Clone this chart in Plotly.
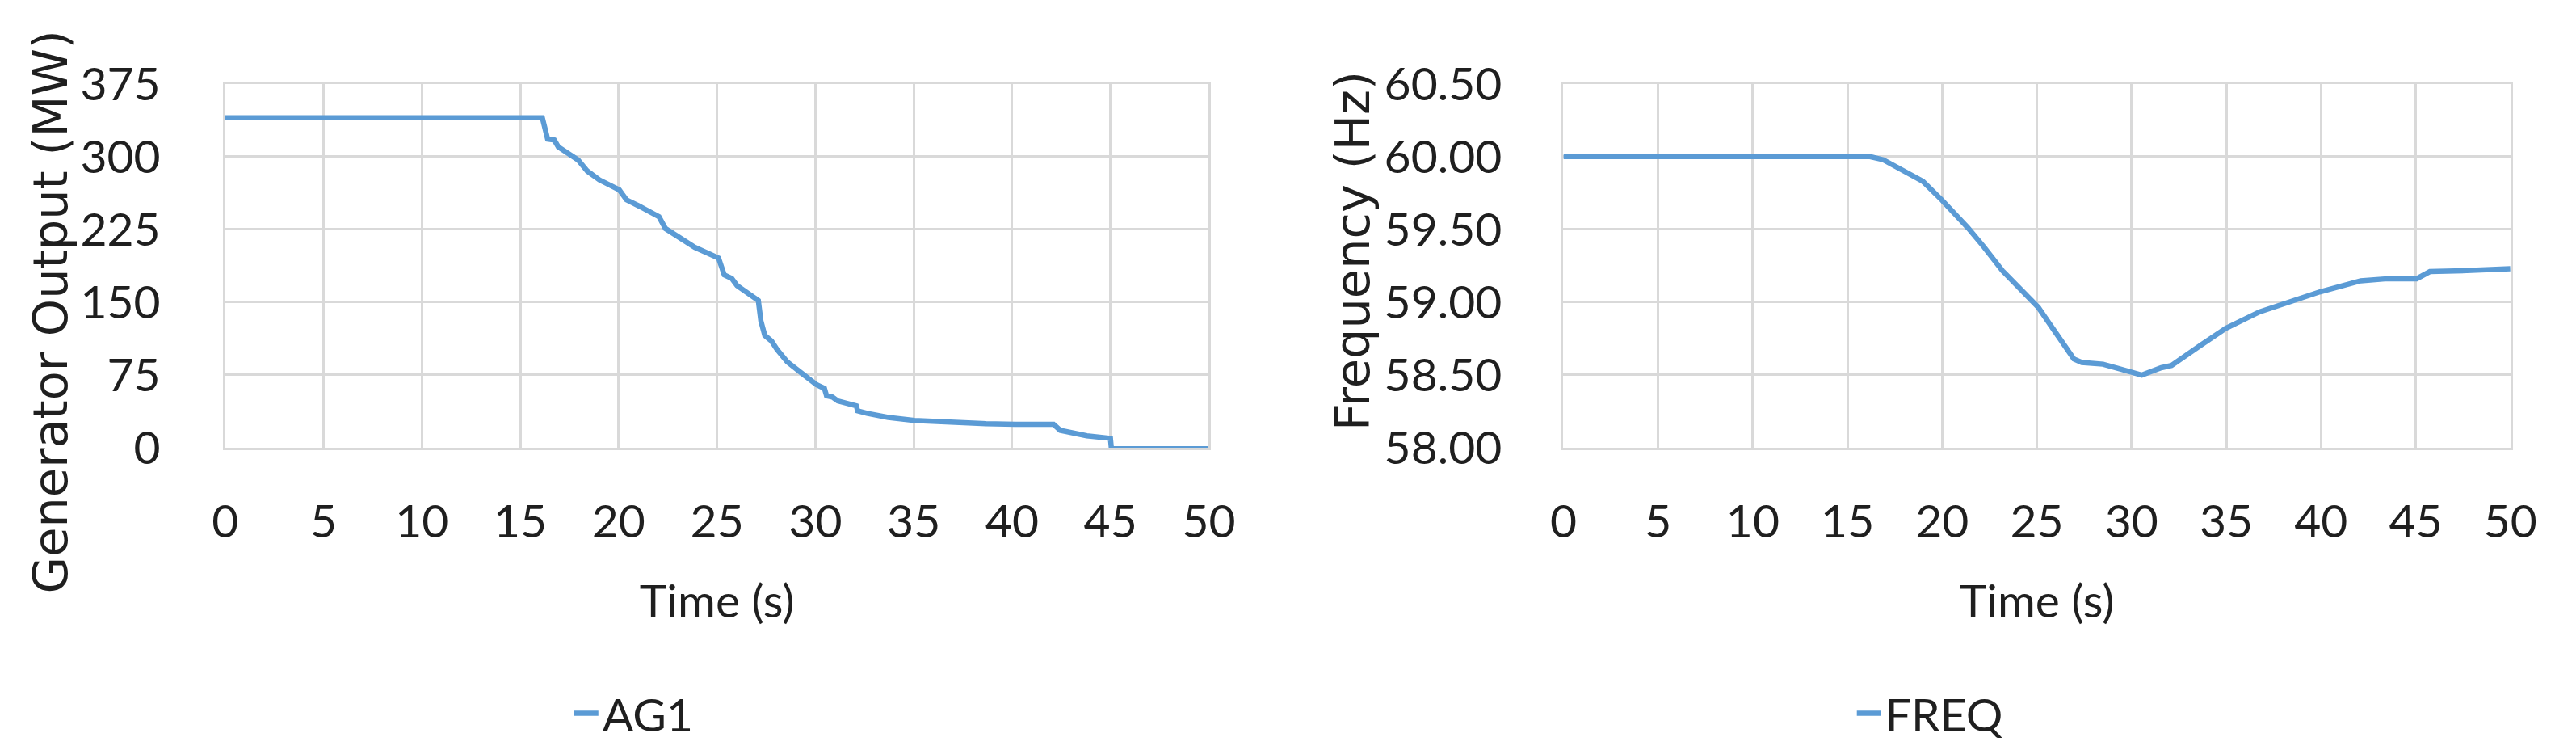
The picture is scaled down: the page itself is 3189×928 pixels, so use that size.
import plotly.graph_objects as go

# Generator output (AG1)
ag1_time = [0, 16.12, 16.39, 16.73, 16.93, 17.94, 18.41, 19.02, 20.03, 20.40,
            21.04, 22.05, 22.38, 22.79, 23.87, 25.08, 25.37, 25.75, 26.02, 27.10,
            27.23, 27.43, 27.77, 28.04, 28.57, 29.39, 30.06, 30.46, 30.57, 30.87,
            31.14, 32.08, 32.15, 32.62, 33.70, 35.04, 36.80, 38.68, 40.16, 42.11,
            42.45, 42.85, 43.80, 45.00, 45.05, 50.0]
ag1_mw = [340, 340, 318, 317, 310, 296.5, 285, 276, 265.7, 255.4,
          249, 238, 225.8, 220.7, 206.5, 195.4, 178, 174.4, 167, 151.7,
          130.6, 115.7, 110, 101.5, 88.5, 75.5, 65, 61.2, 53.5, 52.2,
          48.3, 43.2, 38, 35.5, 31.3, 28.2, 26.2, 24.7, 24.2, 24.2,
          18, 16.2, 12.3, 9.7, -1, -1]

# System frequency (FREQ)
freq_time = [0, 16.19, 16.89, 18.28, 18.98, 19.99, 21.36, 22.20, 23.18, 25.07,
             25.98, 26.95, 27.37, 28.49, 29.33, 30.54, 31.57, 32.11, 33.66, 34.97,
             36.75, 39.92, 42.10, 43.50, 45.05, 45.75, 47.70, 50.0]
freq_hz = [60.00, 60.00, 59.978, 59.88, 59.83, 59.70, 59.51, 59.38, 59.216, 58.965,
           58.79, 58.61, 58.586, 58.574, 58.543, 58.499, 58.55, 58.565, 58.705, 58.82,
           58.933, 59.07, 59.147, 59.161, 59.161, 59.21, 59.217, 59.23]

x_ticks = list(range(0, 51, 5))
mw_ticks = [0, 75, 150, 225, 300, 375]
hz_ticks = [58.0, 58.5, 59.0, 59.5, 60.0, 60.5]

W, H = 3189, 928
BLUE = "#5B9BD5"
GRID = "#d9d9d9"
TXT = "#1f1f1f"
TICK_FONT = dict(family="Lato, Liberation Sans, sans-serif", size=57, color=TXT)
TITLE_FONT = dict(family="DejaVu Sans, Verdana, sans-serif", size=59, color=TXT)

fig = go.Figure()
fig.add_trace(go.Scatter(x=ag1_time, y=ag1_mw, mode="lines", name="AG1",
                         line=dict(color=BLUE, width=6.5), showlegend=True,
                         xaxis="x", yaxis="y", legend="legend"))
fig.add_trace(go.Scatter(x=freq_time, y=freq_hz, mode="lines", name="FREQ",
                         line=dict(color=BLUE, width=6.5), showlegend=True,
                         xaxis="x2", yaxis="y2", legend="legend2"))

axis_common = dict(showgrid=True, gridcolor=GRID, gridwidth=2.5,
                   showline=True, mirror=True, linecolor=GRID, linewidth=2.5,
                   zeroline=False, ticks="", tickfont=TICK_FONT)

fig.update_layout(
    width=W, height=H, autosize=False, showlegend=True,
    margin=dict(l=0, r=0, t=0, b=0),
    paper_bgcolor="white", plot_bgcolor="white",
    xaxis=dict(domain=[266 / W, 1503 / W], range=[0, 50], tickvals=x_ticks,
               ticklabelstandoff=40, anchor="y",
               title=dict(text="Time (s)", font=TICK_FONT, standoff=48),
               **axis_common),
    yaxis=dict(domain=[1 - 559 / H, 1 - 73 / H], range=[0, 375], tickvals=mw_ticks,
               ticklabelstandoff=66, anchor="x", **axis_common),
    xaxis2=dict(domain=[1949 / W, 3140 / W], range=[0, 50], tickvals=x_ticks,
                ticklabelstandoff=40, anchor="y2",
                title=dict(text="Time (s)", font=TICK_FONT, standoff=48),
                **axis_common),
    yaxis2=dict(domain=[1 - 559 / H, 1 - 73 / H], range=[58, 60.5], tickvals=hz_ticks,
                tickformat=".2f", ticklabelstandoff=62, anchor="x2", **axis_common),
    legend=dict(orientation="h", x=780 / W, xanchor="center", y=14 / H, yanchor="middle",
                font=TICK_FONT, bgcolor="rgba(0,0,0,0)", visible=True),
    legend2=dict(orientation="h", x=2410 / W, xanchor="center", y=14 / H, yanchor="middle",
                 font=TICK_FONT, bgcolor="rgba(0,0,0,0)", visible=True),
    annotations=[
        dict(text="Generator Output (MW)", textangle=-90, font=TITLE_FONT,
             x=46 / W, y=1 - 378 / H, xref="paper", yref="paper",
             xanchor="center", yanchor="middle", showarrow=False),
        dict(text="Frequency (Hz)", textangle=-90, font=TITLE_FONT,
             x=1684 / W, y=1 - 296 / H, xref="paper", yref="paper",
             xanchor="center", yanchor="middle", showarrow=False),
    ],
)

fig.write_html("out.html", config={"displayModeBar": False},
               post_script="document.body.style.margin='0';")
